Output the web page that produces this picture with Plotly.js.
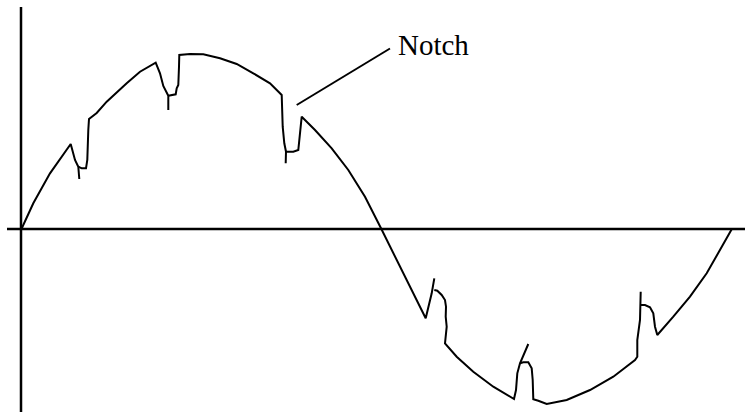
<!DOCTYPE html>
<html>
<head>
<meta charset="utf-8">
<script src="https://cdn.plot.ly/plotly-3.0.1.min.js"></script>
<style>html,body{margin:0;padding:0;background:#fff;}#chart{width:745px;height:412px;}</style>
</head>
<body>
<div id="chart"></div>
<script>
// Waveform points (picture coordinates), null = pen lift
const waveX = [21.7,33.3,50,70.7,75,78.3,79.3,null,
  78.3,81.7,86,87.3,88.3,88.3,89,96.7,106.7,126.7,140,155.7,160,163.3,166.7,168.3,168.3,null,
  168.3,171.7,175.7,176.7,178.3,179,179.3,190,203.3,220,236.7,253.3,270,281.7,282.3,282.7,284.3,286,285.7,null,
  286,293.3,298.3,299.3,300,300.7,301.7,315,331.7,348.3,365,381,395,411.7,425.7,431.7,434.3,null,
  434.3,437.3,441.7,445,446,445.7,446.7,445.7,445,456.7,473.3,493.3,514,516,517.3,520,524,528.3,null,
  520,523.3,528.3,531.7,532.7,533.3,538.3,546.7,566.7,590,613.3,635,637.3,637.3,640,640.7,640.7,null,
  640.7,645,650,653.3,655,657.3,673.3,690,706.7,720,731.7];
const waveY = [228.5,203.3,173.3,144,160,166.7,179,null,
  166.7,168.3,168.3,160,130,120.7,119,113,101.7,83.3,71.7,62.7,73.3,86,93.3,95.7,110,null,
  95.7,95,94.3,88.3,85,66.7,55,54,54.3,58.3,64,73.3,83.3,95,110,126.7,143.3,151.7,163.3,null,
  151.7,151.7,150,140,131.7,123.3,116.7,130,148.3,170,196.7,228.3,256.7,290,318.3,293.3,278.3,null,
  290,290.7,295,300,306.7,316.7,326.7,335,343.3,356.7,371.7,386.7,399,390,373.3,363.3,354,344,null,
  363.3,362.3,362.3,368.3,380,399.3,400.7,404,400,390,376.7,360,356.7,340,320,305,291.7,null,
  305,305,307.3,313.3,326.7,335,316.7,296.7,273.3,250,229.3];
// Axes of the diagram
const hAxisX = [7, 745];
const hAxisY = [229, 229];
const vAxisX = [21, 21];
const vAxisY = [7, 412];
// Label leader line
const leaderX = [296.7, 390];
const leaderY = [105, 48.5];
const labelText = "Notch";

const traces = [
  {x: hAxisX, y: hAxisY, mode: 'lines', line: {color: '#000', width: 2.5}, hoverinfo: 'skip'},
  {x: vAxisX, y: vAxisY, mode: 'lines', line: {color: '#000', width: 2.5}, hoverinfo: 'skip'},
  {x: waveX, y: waveY, mode: 'lines', connectgaps: false, line: {color: '#000', width: 2}, hoverinfo: 'skip'},
  {x: leaderX, y: leaderY, mode: 'lines', line: {color: '#000', width: 2}, hoverinfo: 'skip'}
];
const layout = {
  width: 745, height: 412,
  margin: {l: 0, r: 0, t: 0, b: 0},
  showlegend: false,
  paper_bgcolor: '#fff', plot_bgcolor: '#fff',
  xaxis: {range: [0, 745], visible: false, fixedrange: true},
  yaxis: {range: [412, 0], visible: false, fixedrange: true},
  annotations: [{
    x: 396, y: 45, xref: 'x', yref: 'y', xanchor: 'left', yanchor: 'middle',
    text: labelText, showarrow: false,
    font: {family: '"Liberation Serif", "Times New Roman", serif', size: 29, color: '#000'}
  }]
};
Plotly.newPlot('chart', traces, layout, {staticPlot: true, displayModeBar: false});
</script>
</body>
</html>
